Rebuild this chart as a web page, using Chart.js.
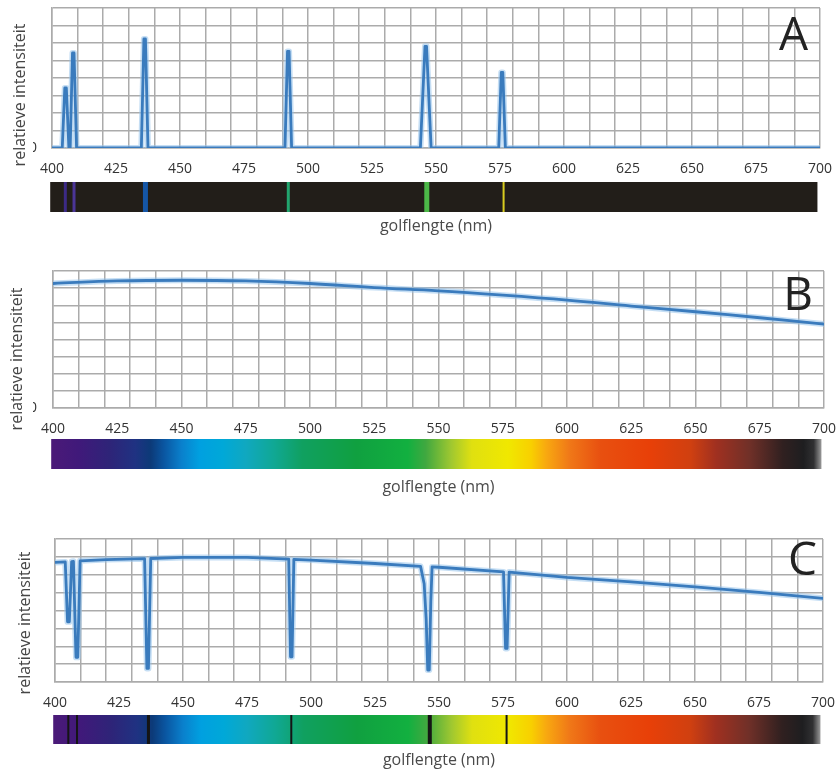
<!DOCTYPE html>
<html>
<head>
<meta charset="utf-8">
<script src="https://cdn.jsdelivr.net/npm/chart.js@4.4.1/dist/chart.umd.min.js"></script>
<style>
  html, body { margin: 0; padding: 0; background: #ffffff; }
  body { width: 836px; height: 771px; position: relative; overflow: hidden; }
  .panel { position: absolute; left: 0; width: 836px; }
  canvas { display: block; }
</style>
</head>
<body>
<div class="panel" style="top:0px;height:245px"><canvas id="chartA" width="836" height="245"></canvas></div>
<div class="panel" style="top:245px;height:260px"><canvas id="chartB" width="836" height="260"></canvas></div>
<div class="panel" style="top:505px;height:266px"><canvas id="chartC" width="836" height="266"></canvas></div>
<script>
// ---------- DATA ----------
const xTickLabels = [400, 425, 450, 475, 500, 525, 550, 575, 600, 625, 650, 675, 700];

// A: emission spectrum (mercury lamp)
const emissionWavelengths = [400, 404.0, 405.0, 405.6, 406.6, 407.1, 408.0, 408.6, 409.6,
  434.9, 435.9, 436.5, 437.5, 491.0, 492.0, 492.6, 493.6,
  543.9, 545.7, 546.3, 548.1, 574.5, 575.5, 576.1, 577.1, 700];
const emissionIntensity = [0, 0, 3.43, 3.43, 0, 0, 5.43, 5.43, 0,
  0, 6.23, 6.23, 0, 0, 5.52, 5.52, 0,
  0, 5.81, 5.81, 0, 0, 4.32, 4.32, 0, 0];

// B: continuous spectrum
const continuumWavelengths = [400, 425, 450, 475, 500, 525, 550, 575, 600, 625, 650, 675, 700];
const continuumIntensity = [7.27, 7.42, 7.46, 7.42, 7.27, 7.03, 6.84, 6.59, 6.30, 5.95, 5.62, 5.27, 4.90];

// C: absorption spectrum
const absorptionWavelengths = [400, 404.0, 404.9, 405.6, 406.5, 407.2, 408.2, 408.9, 409.8, 420,
  435.0, 435.9, 436.5, 437.4, 450, 475, 491.3, 492.0, 492.6, 493.3, 500, 525,
  542.8, 544.2, 545.0, 545.6, 546.2, 546.8, 547.3, 550,
  575.2, 576.0, 576.6, 577.4, 600, 625, 650, 675, 700];
const absorptionIntensity = [6.69, 6.72, 3.37, 3.37, 6.74, 6.75, 1.38, 1.38, 6.78, 6.85,
  6.90, 0.76, 0.76, 6.91, 6.97, 6.97, 6.87, 1.41, 1.41, 6.86, 6.82, 6.63,
  6.47, 5.5, 3.5, 0.67, 0.67, 4.5, 6.44, 6.42,
  6.16, 1.88, 1.88, 6.15, 5.85, 5.60, 5.32, 5.01, 4.68];

// spectral lines shown in the colour bars
const lineWavelengths = [405.2, 408.6, 436.5, 492.3, 546.4, 576.4];
const emissionLineColors = ['#3c2a86', '#4b3596', '#1556a6', '#22a56e', '#4cb848', '#d8cc20'];

// visible spectrum colour stops
const spectrumStopWl = [399.3, 410, 422, 432, 438, 443, 450, 457, 466, 475, 486, 497, 518, 538, 545, 555,
  563, 577, 586, 592, 601, 613, 632, 648, 658, 671, 684, 692, 696, 699];
const spectrumStopColor = ['#4b1a78', '#40197a', '#2e2478', '#1f3282', '#0c3a78', '#0a55a0', '#0a80cc', '#00a0e0',
  '#00a8d8', '#10a8c0', '#10a894', '#10a060', '#10a040', '#12b040', '#40a840', '#a0c830',
  '#e0e010', '#f0e800', '#f8d000', '#f8a810', '#f07818', '#e85010', '#e84008', '#d04010',
  '#a03020', '#703028', '#302020', '#1e1e20', '#303032', '#9a9a9a'];
const barRange = [399.3, 699];

// ---------- STYLE ----------
const GRID = '#ababab';
const LINE = '#3a7bbd';
const HALO = 'rgba(150,195,235,0.55)';
const FONT = '"Open Sans", "DejaVu Sans", sans-serif';

const panelPlugin = {
  id: 'panel',
  afterDraw(chart, args, o) {
    const ctx = chart.ctx, xs = chart.scales.x, area = chart.chartArea;
    const top = area.bottom + o.barGap, h = o.barHeight;
    const x0 = xs.getPixelForValue(barRange[0]), x1 = xs.getPixelForValue(barRange[1]);
    ctx.save();
    if (o.bar === 'dark') {
      ctx.fillStyle = '#221e19';
      ctx.fillRect(x0, top, x1 - x0, h);
    } else {
      const g = ctx.createLinearGradient(x0, 0, x1, 0);
      spectrumStopWl.forEach((w, i) => {
        g.addColorStop((w - barRange[0]) / (barRange[1] - barRange[0]), spectrumStopColor[i]);
      });
      ctx.fillStyle = g;
      ctx.fillRect(x0, top, x1 - x0, h);
    }
    if (o.lines) {
      lineWavelengths.forEach((w, i) => {
        const px = xs.getPixelForValue(w);
        ctx.fillStyle = o.lines === 'emission' ? emissionLineColors[i] : '#151515';
        const lw = o.lineWidths[i];
        ctx.fillRect(px - lw / 2, top, lw, h);
      });
    }
    // y-axis title
    if (o.coverZero) {
      ctx.fillStyle = '#ffffff';
      ctx.fillRect(0, area.top, o.coverZero, area.bottom - area.top + 12);
    }
    ctx.translate(o.yTitleX, o.yTitleY);
    ctx.rotate(-Math.PI / 2);
    ctx.fillStyle = '#454545';
    ctx.font = '16px ' + FONT;
    ctx.textAlign = 'center';
    ctx.textBaseline = 'middle';
    ctx.fillText('relatieve intensiteit', 0, 0);
    ctx.restore();
    // panel letter
    ctx.save();
    ctx.fillStyle = '#222222';
    ctx.font = '46px ' + FONT;
    ctx.textAlign = 'right';
    ctx.textBaseline = 'alphabetic';
    ctx.fillText(o.letter, area.right - o.letterRight, area.top + o.letterBase);
    ctx.restore();
  }
};

function makeChart(id, wl, vals, p) {
  const pts = wl.map((w, i) => ({ x: w, y: vals[i] }));
  return new Chart(document.getElementById(id), {
    type: 'line',
    data: {
      datasets: [
        { data: pts, borderColor: LINE, borderWidth: 2.8, pointRadius: 0, tension: p.tension,
          borderJoinStyle: 'round', borderCapStyle: 'round', order: 1 },
        { data: pts, borderColor: HALO, borderWidth: 6, pointRadius: 0, tension: p.tension,
          borderJoinStyle: 'round', order: 2 }
      ]
    },
    options: {
      responsive: false,
      devicePixelRatio: 1,
      animation: false,
      events: [],
      layout: { padding: { left: 0, right: p.R, top: p.T, bottom: 0 } },
      plugins: {
        legend: { display: false },
        tooltip: { enabled: false },
        panel: p.panel
      },
      scales: {
        x: {
          type: 'linear', min: 400, max: 700,
          border: { color: GRID, width: 1.5 },
          grid: {
            drawTicks: false, lineWidth: 1.5,
            color: c => (c.tick && Math.round(c.tick.value) % 10 === 0) ? GRID : 'rgba(0,0,0,0)'
          },
          ticks: {
            stepSize: 5, autoSkip: false, maxRotation: 0, padding: 13,
            color: '#333333', font: { family: FONT, size: 14 },
            callback: v => xTickLabels.includes(v) ? String(v) : ''
          },
          title: {
            display: true, text: 'golflengte (nm)', color: '#4a4a4a',
            font: { family: FONT, size: 16 }, padding: { top: 0, bottom: p.titlePad }
          },
          afterFit: s => { s.height = p.xH; s.paddingLeft = 0; s.paddingRight = 0; }
        },
        y: {
          min: 0, max: 8,
          border: { color: GRID, width: 1.5 },
          grid: { drawTicks: false, lineWidth: 1.5, color: GRID },
          ticks: {
            stepSize: 1, autoSkip: false, padding: p.zeroPad,
            color: p.showZero ? '#333333' : 'rgba(0,0,0,0)', font: { family: FONT, size: 14 },
            callback: v => v === 0 ? '0' : ''
          },
          afterFit: s => { s.width = p.L; s.paddingTop = 0; s.paddingBottom = 0; }
        }
      }
    },
    plugins: [panelPlugin]
  });
}

makeChart('chartA', emissionWavelengths, emissionIntensity, {
  L: 52, R: 16, T: 8, xH: 97, titlePad: 9.4, zeroPad: 15, showZero: true, tension: 0,
  panel: { bar: 'dark', lines: 'emission', lineWidths: [3, 3, 5, 3, 5, 2], barGap: 34, barHeight: 30,
    yTitleX: 20, yTitleY: 95, coverZero: 33, letter: 'A', letterRight: 12, letterBase: 42 }
});
makeChart('chartB', continuumWavelengths, continuumIntensity, {
  L: 53, R: 12, T: 26, xH: 97, titlePad: 8.4, zeroPad: 16, showZero: true, tension: 0.4,
  panel: { bar: 'spectrum', lines: null, lineWidths: [], barGap: 31, barHeight: 30,
    yTitleX: 17, yTitleY: 114, coverZero: 33, letter: 'B', letterRight: 11, letterBase: 39 }
});
makeChart('chartC', absorptionWavelengths, absorptionIntensity, {
  L: 55, R: 13, T: 34, xH: 89, titlePad: 1.4, zeroPad: 15, showZero: false, tension: 0,
  panel: { bar: 'spectrum', lines: 'absorption', lineWidths: [2, 2, 3, 2, 4, 2], barGap: 33, barHeight: 29,
    yTitleX: 25, yTitleY: 118, coverZero: 0, letter: 'C', letterRight: 6, letterBase: 36 }
});
</script>
</body>
</html>
